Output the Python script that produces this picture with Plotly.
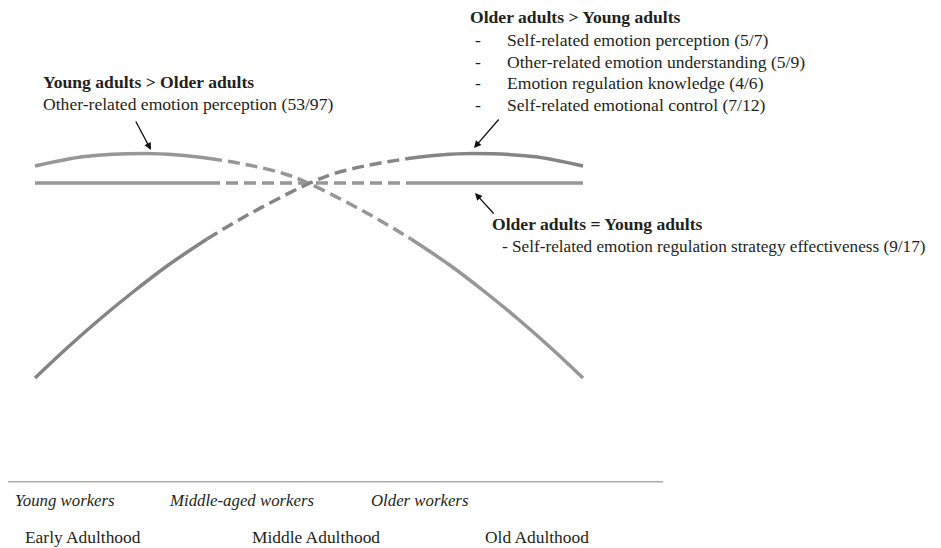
import plotly.graph_objects as go

# ---------------- data (diagram units) ----------------
# Curve rising from early adulthood to old adulthood (Older adults > Young adults)
rise_x = [35, 67, 100, 133, 167, 207, 237, 268, 310, 333, 367, 408, 440, 473, 533, 583]
rise_y = [378, 348, 319, 292, 266, 239, 221, 204, 183, 174, 165.5, 158.5, 155, 153.5, 156.5, 166]

# Curve declining from early to old adulthood (Young adults > Older adults)
fall_x = [35, 85, 145, 178, 210, 251, 285, 308, 350, 381, 411, 451, 485, 518, 551, 583]
fall_y = [166, 156.5, 153.5, 155, 158.5, 165.5, 174, 183, 204, 221, 239, 266, 292, 319, 348, 378]

# Flat line (Older adults = Young adults)
flat_x = [35, 208, 410, 583]
flat_y = [183, 183, 183, 183]

# Index ranges: solid / dashed (middle adulthood) / solid
rise_split = (5, 11)
fall_split = (4, 10)
flat_split = (1, 2)

older_gt_young_title = "Older adults > Young adults"
older_gt_young_items = [
    "Self-related emotion perception (5/7)",
    "Other-related emotion understanding (5/9)",
    "Emotion regulation knowledge (4/6)",
    "Self-related emotional control (7/12)",
]
young_gt_older_title = "Young adults > Older adults"
young_gt_older_items = ["Other-related emotion perception (53/97)"]
equal_title = "Older adults = Young adults"
equal_items = ["Self-related emotion regulation strategy effectiveness (9/17)"]

worker_groups = ["Young workers", "Middle-aged workers", "Older workers"]
adulthood_stages = ["Early Adulthood", "Middle Adulthood", "Old Adulthood"]

# ---------------- figure ----------------
FONT = "Liberation Serif"
TXT = "#231f20"
FS = 17.6
OFF = 8  # page body margin
fig = go.Figure()


def add_curve(xs, ys, split, color):
    a, b = split
    parts = [
        (xs[: a + 1], ys[: a + 1], "solid"),
        (xs[a: b + 1], ys[a: b + 1], "12px,6px"),
        (xs[b:], ys[b:], "solid"),
    ]
    for px, py, dash in parts:
        fig.add_trace(go.Scatter(
            x=px, y=py, mode="lines",
            line=dict(color=color, width=3.5, dash=dash, shape="spline", smoothing=1.0),
            hoverinfo="skip", showlegend=False))


add_curve(flat_x, flat_y, flat_split, "#979797")
add_curve(fall_x, fall_y, fall_split, "#979797")
add_curve(rise_x, rise_y, rise_split, "#858585")

ann = []


def text(x, y, s, size=FS, bold=False, italic=False):
    if bold:
        s = "<b>" + s + "</b>"
    if italic:
        s = "<i>" + s + "</i>"
    ann.append(dict(x=x, y=y, xref="x", yref="y", text=s, showarrow=False,
                    xanchor="left", yanchor="middle",
                    font=dict(family=FONT, size=size, color=TXT)))


# top-right block
text(468, 17, older_gt_young_title, bold=True)
for i, item in enumerate(older_gt_young_items):
    y = 40 + i * 21.7
    text(473, y, "-")
    text(505, y, item)

# top-left block
text(41, 82, young_gt_older_title, bold=True)
for i, item in enumerate(young_gt_older_items):
    text(41, 104 + i * 22, item)

# middle-right block
text(490, 224, equal_title, bold=True)
for i, item in enumerate(equal_items):
    text(500, 246 + i * 22, "-")
    text(510, 246 + i * 22, item, size=17.2)

# arrows
for (tx, ty, hx, hy) in [(135, 120, 151, 150), (500, 118, 474, 148), (495, 215, 475, 193)]:
    ann.append(dict(x=hx, y=hy, ax=tx, ay=ty, xref="x", yref="y", axref="x", ayref="y",
                    text="", showarrow=True, arrowhead=2, arrowsize=1.1,
                    arrowwidth=1.3, arrowcolor="#111111"))

# bottom axis labels
for lab, x in zip(worker_groups, [13, 167, 369]):
    text(x, 500, lab, size=16.8, italic=True)
for lab, x in zip(adulthood_stages, [23, 250, 483]):
    text(x, 537, lab, size=17.4)

fig.add_shape(type="line", x0=8, x1=663, y0=481.7, y1=481.7, xref="x", yref="y",
              line=dict(color="#aaaaaa", width=1.5))

W, H = 941 - OFF, 548 - OFF
fig.update_layout(
    width=W, height=H,
    margin=dict(l=0, r=0, t=0, b=0),
    paper_bgcolor="white", plot_bgcolor="white",
    xaxis=dict(range=[OFF, OFF + W], visible=False, fixedrange=True),
    yaxis=dict(range=[OFF + H, OFF], visible=False, fixedrange=True),
    annotations=ann,
    showlegend=False,
)

fig.write_html("out.html")
